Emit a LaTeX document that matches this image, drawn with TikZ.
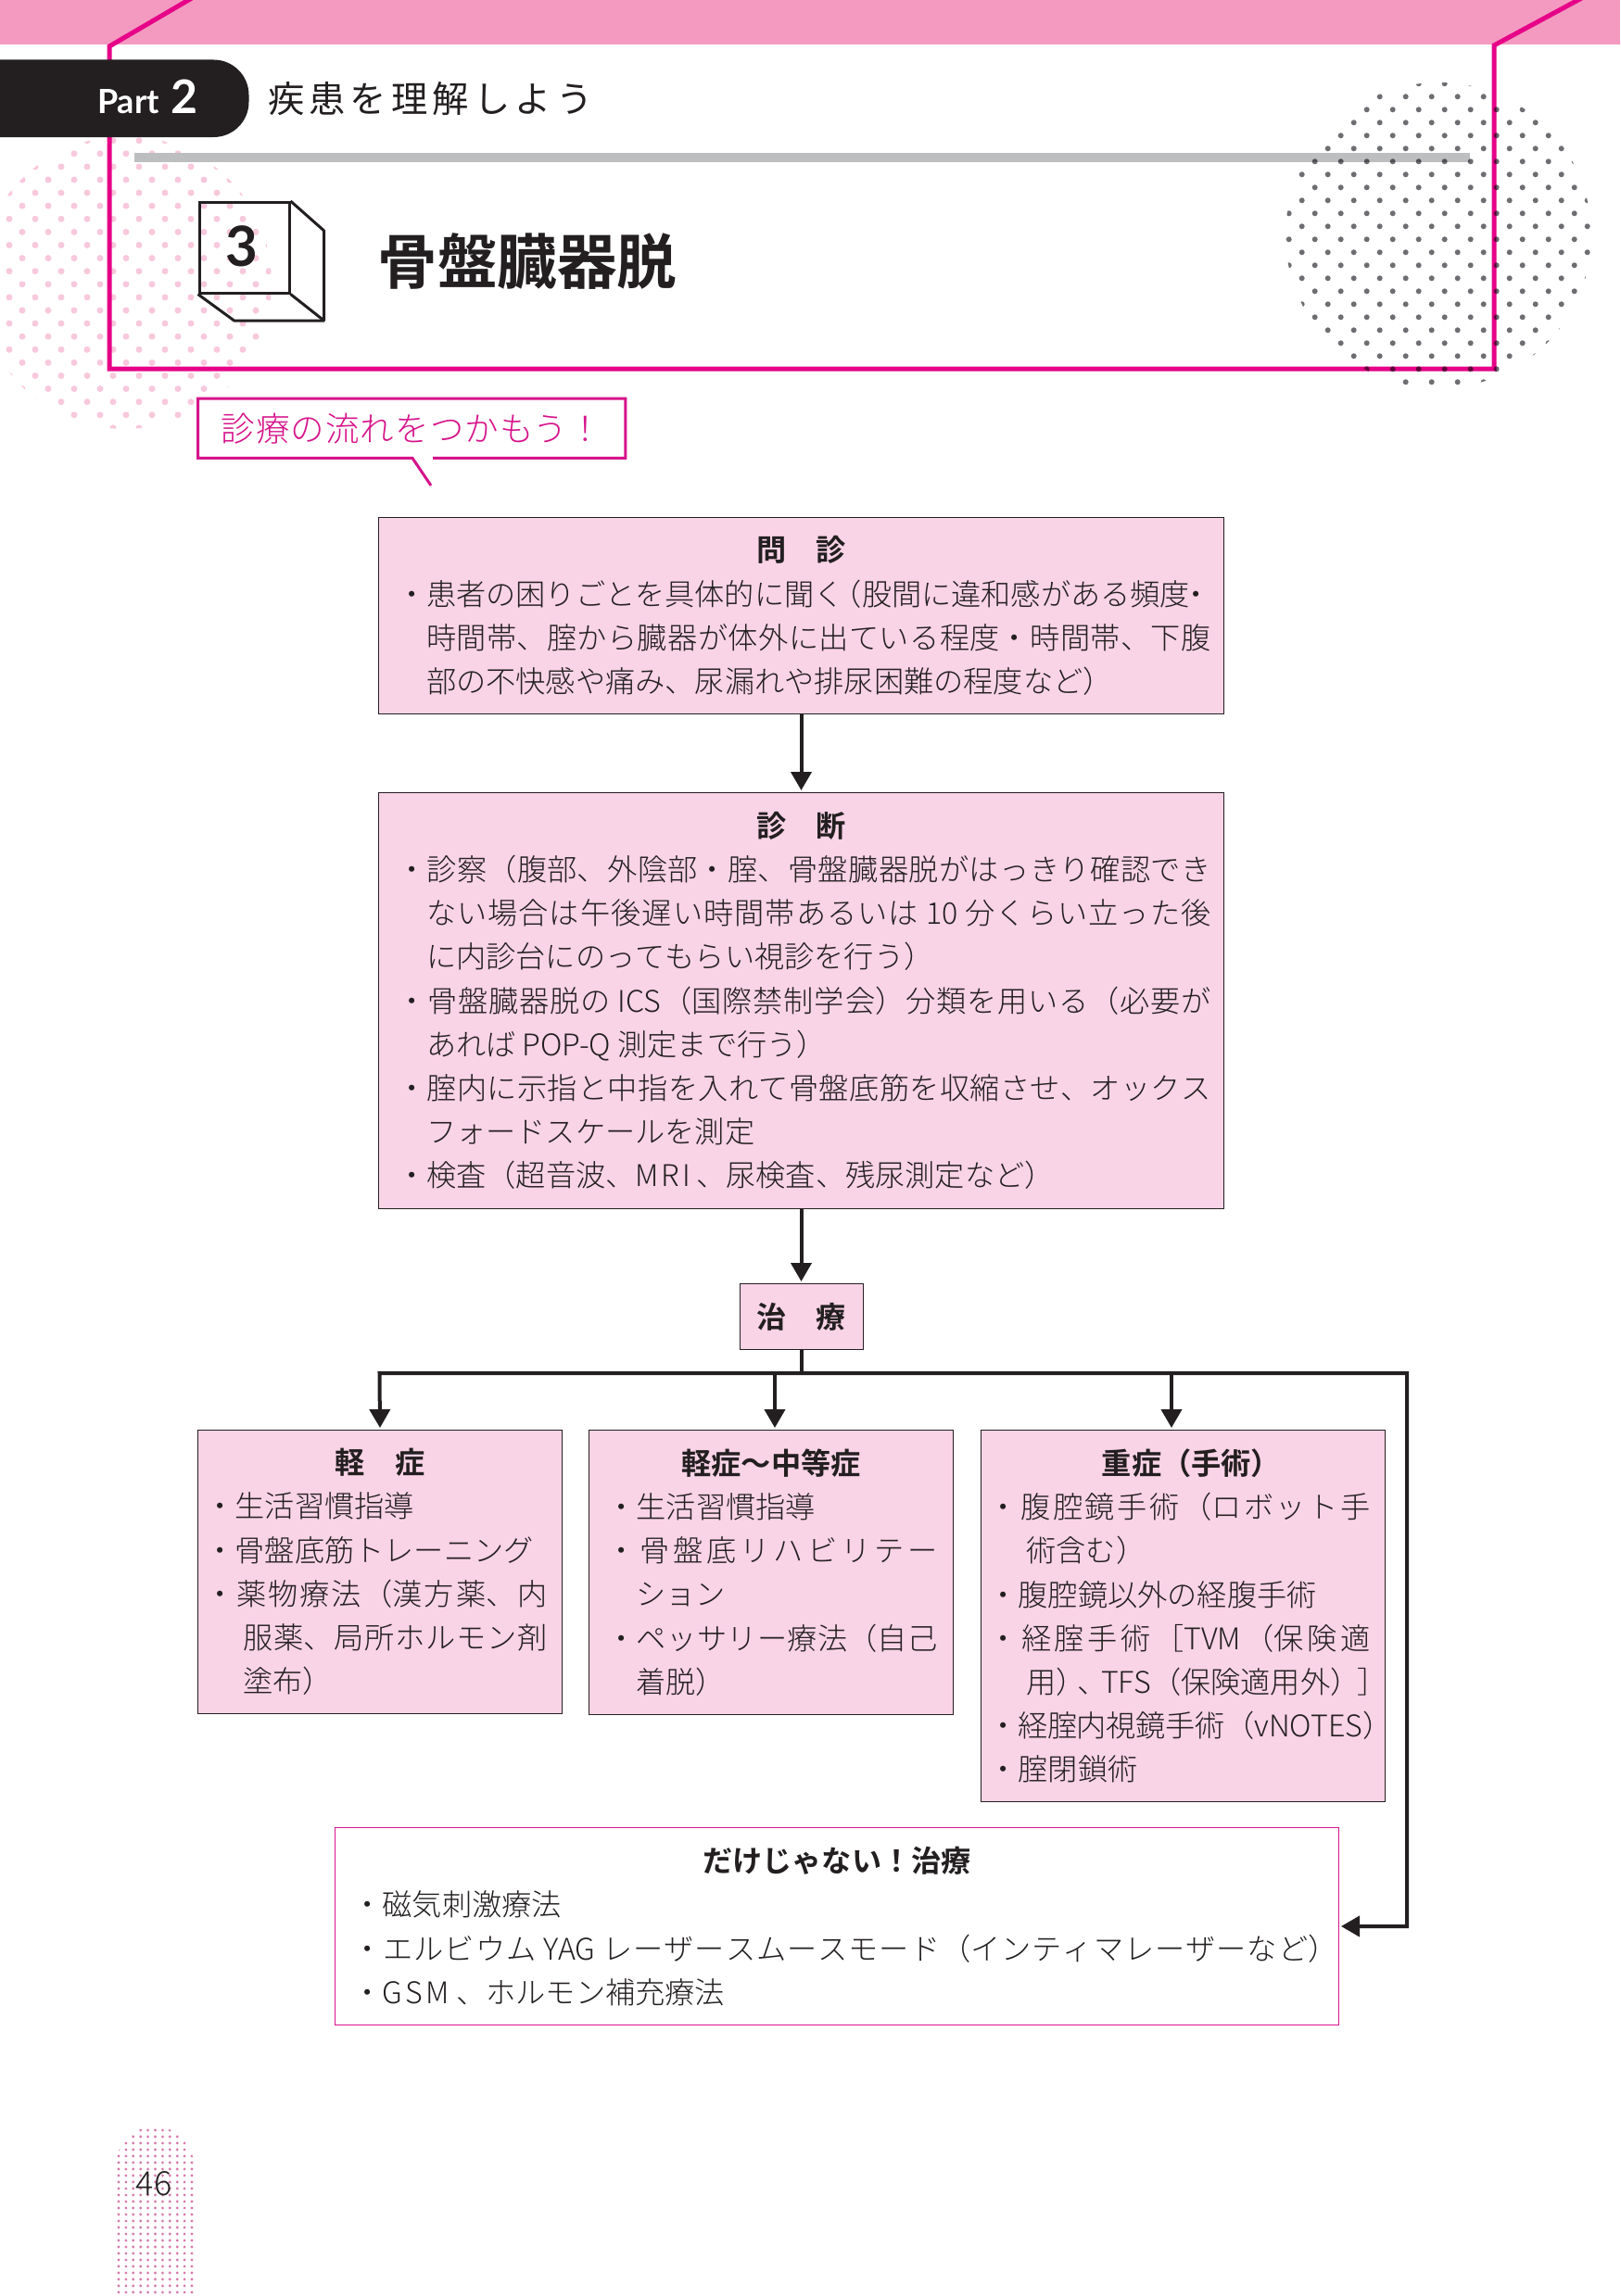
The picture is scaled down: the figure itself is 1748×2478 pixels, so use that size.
\documentclass[tikz,border=0pt]{standalone}
\usepackage{fontspec}
\usetikzlibrary{positioning,arrows.meta}
\setmainfont{Noto Sans CJK JP Light}[BoldFont={Noto Sans CJK JP Bold}]
\newfontfamily\spacedfont[LetterSpace=13]{Noto Sans CJK JP}
\newfontfamily\calloutfont[LetterSpace=3]{Noto Sans CJK JP Light}
\newfontfamily\latinfont{Lato}
\definecolor{BandPink}{RGB}{244,154,193}
\definecolor{FrameMagenta}{RGB}{230,0,135}
\definecolor{TipMagenta}{RGB}{214,20,138}
\definecolor{CardPink}{RGB}{249,211,230}
\definecolor{SoftDot}{RGB}{248,200,220}
\definecolor{PageDot}{RGB}{214,120,170}
\definecolor{GreyDot}{RGB}{109,110,113}
\definecolor{BarGrey}{RGB}{188,190,192}
\definecolor{Ink}{RGB}{35,31,32}
% justified lines inside the cards
\XeTeXlinebreaklocale "ja"
\XeTeXlinebreakskip=0pt plus 4pt minus 1.5pt
\tolerance=9999
\hbadness=10000
\newdimen\hangamt
\newdimen\leftamt
\newdimen\rightamt
\newcommand{\cardhead}[1]{{\centering\bfseries #1\par}}
\newcommand{\itm}[1]{\par\parfillskip=0pt plus 1fil\hangindent=\hangamt\hangafter=1\leftskip=\leftamt\rightskip=\rightamt ・#1\par}

\begin{document}
\begin{tikzpicture}[x=1pt,y=-1pt,
    card/.style={rectangle,draw=Ink,line width=1pt,fill=CardPink,inner xsep=8pt,inner ysep=0pt,
                 align=justify,text=Ink,font=\fontsize{32.2}{47.2}\selectfont},
    arrow/.style={-{Triangle[length=20pt,width=22pt]},line width=4pt,Ink,shorten >=2pt}
]
\useasboundingbox (0,0) rectangle (1748,2478);

% Header band and dots
\fill[BandPink] (0,0) rectangle (1748,48);
\begin{scope}
\clip (135,305) circle[radius=158];
\foreach \row in {0,...,22}
  \foreach \col in {-3,...,12}
    \fill[SoftDot] ({66+28*\col-14*mod(\row,2)},{151.7+14.1*\row}) circle[radius=3.5];
\end{scope}

% Frame
\draw[FrameMagenta,line width=5pt,miter limit=10] (212,-5) -- (118,50) -- (118,398) -- (1612,398) -- (1612,49) -- (1712,-5);
\fill[BarGrey] (145,165) rectangle (1586,175);

% Grey dots
\begin{scope}[blend mode=multiply]
\clip (1552,254) circle[radius=165];
\foreach \row in {0,...,23}
  \foreach \col in {-6,...,7}
    \fill[GreyDot] ({1530.7+28*\col+14*mod(\row,2)},{90.3+14*\row}) circle[radius=3];
\end{scope}

% Part label
\fill[Ink,rounded corners=38pt] (-60,64.5) -- (268.5,64.5) -- (268.5,148) -- (-60,148) -- cycle;
\node[anchor=base west,inner sep=0pt,text=white,font=\latinfont\bfseries\fontsize{36}{36}\selectfont] (part) at (105,122.5) {Part\hspace{4pt} {\fontsize{50}{50}\selectfont 2}};
\node[anchor=west,inner sep=0pt,text=Ink,font=\spacedfont\fontsize{39.3}{39.3}\selectfont] (chapter) at (289,107) {疾患を理解しよう};

% Section number
\node[rectangle,draw=Ink,line width=3pt,minimum width=97pt,minimum height=97.5pt,anchor=north west,inner sep=0pt] (number) at (213.5,217) {};
\node[inner sep=0pt,font=\latinfont\bfseries\fontsize{60}{60}\selectfont,text=Ink] (numeral) at (261,266) {3};
\draw[Ink,line width=3pt,line join=round] (number.north east) -- (349.6,249) -- (349.6,346) -- (252.6,346) -- (number.south west);
\draw[Ink,line width=3pt] (number.south east) -- (349.6,346);
\node[anchor=west,inner sep=0pt,text=Ink,font=\bfseries\fontsize{64.5}{64.5}\selectfont] (title) at (407.5,282) {骨盤臓器脱};

% Callout
\node[rectangle,fill=white,minimum width=461pt,minimum height=64pt,anchor=north west,inner sep=0pt,
      text=TipMagenta,font=\calloutfont\fontsize{36.5}{36.5}\selectfont] (callout) at (213.5,430) {診療の流れをつかもう！};
\coordinate (tail) at (465,524);
\draw[TipMagenta,line width=3pt,line join=miter]
  ([xshift=253.5pt]callout.south west) -- (callout.south east) -- (callout.north east) -- (callout.north west)
  -- (callout.south west) -- ([xshift=231.5pt]callout.south west) -- (tail);

% Interview
\node[card,minimum width=912pt,minimum height=212pt,text width=896pt,anchor=north west,
      execute at begin node={\leftamt=11.5pt\rightamt=6pt\hangamt=32pt}] (interview) at (408,558) {
    \cardhead{問　診}
    \itm{患者の困りごとを具体的に聞く\kern-.4em（股間に違和感がある頻度\kern-.3em・\linebreak
    時間帯、腟から臓器が体外に出ている程度・時間帯、下腹\linebreak
    部の不快感や痛み、尿漏れや排尿困難の程度など）}
};

% Diagnosis
\node[card,minimum width=912pt,minimum height=449pt,text width=896pt,below=84pt of interview,
      execute at begin node={\leftamt=11.5pt\rightamt=6pt\hangamt=32pt}] (diagnosis) {
    \cardhead{診　断}
    \itm{診察（腹部、外陰部・腟、骨盤臓器脱がはっきり確認でき\linebreak
    ない場合は午後遅い時間帯あるいは 10 分くらい立った後\linebreak
    に内診台にのってもらい視診を行う）}
    \itm{骨盤臓器脱の ICS（国際禁制学会）分類を用いる（必要が\linebreak
    あれば POP-Q 測定まで行う）}
    \itm{腟内に示指と中指を入れて骨盤底筋を収縮させ、オックス\linebreak
    フォードスケールを測定}
    \itm{検査（超音波、M\kern3pt R\kern3pt I\hspace{6pt}、尿検査、残尿測定など）}
};

% Treatment
\node[rectangle,draw=Ink,line width=1pt,fill=CardPink,minimum width=133pt,minimum height=71pt,inner sep=0pt,
      text=Ink,font=\bfseries\fontsize{32}{47.2}\selectfont,below=80pt of diagnosis] (treatment) {治　療};

% Mild
\node[card,minimum width=393pt,minimum height=306pt,text width=377pt,anchor=north west,
      execute at begin node={\leftamt=0pt\rightamt=8pt\hangamt=41pt}] (mild) at (213,1543) {
    \cardhead{軽　症}
    \itm{生活習慣指導}
    \itm{骨盤底筋トレーニング}
    \itm{薬物療法（漢方薬、内\linebreak
    服薬、局所ホルモン剤\linebreak
    塗布）}
};

% Mild to moderate
\node[card,minimum width=393pt,minimum height=307pt,text width=377pt,anchor=north west,
      execute at begin node={\leftamt=11pt\rightamt=9pt\hangamt=32pt}] (moderate) at (635,1543) {
    \cardhead{軽症〜中等症}
    \itm{生活習慣指導}
    \itm{骨盤底リハビリテー\linebreak
    ション}
    \itm{ペッサリー療法（自己\linebreak
    着脱）}
};

% Severe
\node[card,minimum width=436pt,minimum height=401pt,text width=420pt,anchor=north west,
      execute at begin node={\leftamt=0pt\rightamt=8pt\hangamt=41pt}] (severe) at (1058,1543) {
    \cardhead{\hspace*{18pt}重症（手術）}
    \itm{腹腔鏡手術（ロボット手\linebreak
    術含む）}
    \itm{腹腔鏡以外の経腹手術}
    \itm{経腟手術［TVM（保険適\linebreak
    用）\kern-.3em、\kern-.2em TFS（保険適用外）\kern-.1em］\kern-24pt}
    \itm{経腟内視鏡手術（vNOTES）\kern-24pt}
    \itm{腟閉鎖術}
};

% Other treatment
\node[card,draw=TipMagenta,fill=white,minimum width=1083pt,minimum height=213pt,text width=1067pt,anchor=north west,
      execute at begin node={\leftamt=11pt\rightamt=-7pt\hangamt=32pt}] (other) at (361,1972) {
    \cardhead{だけじゃない！治療}
    \itm{磁気刺激療法}
    \itm{\parfillskip=0pt エルビウム YAG レーザースムースモード（インティマレーザーなど）}
    \itm{G\kern3pt S\kern3pt M\hspace{8pt}、ホルモン補充療法}
};

% Arrows connecting stages
\coordinate (busleft) at (409.5,1482);
\coordinate (busmid) at (836,1482);
\coordinate (busthird) at (1264,1482);
\coordinate (busright) at (1518,1482);
\draw[arrow] (interview.south) -- (diagnosis.north);
\draw[arrow] (diagnosis.south) -- (treatment.north);
\draw[line width=4pt,Ink] (treatment.south) -- (treatment.south |- busleft);
\draw[arrow,{Triangle[length=20pt,width=22pt]}-{Triangle[length=20pt,width=22pt]},shorten <=2pt] (mild.north) -- (busleft) -- (busright) -- (busright |- other.east) -- (other.east);
\draw[arrow] (busmid) -- (busmid |- moderate.north);
\draw[arrow] (busthird) -- (busthird |- severe.north);

% Page number
\begin{scope}
\clip (125,2478) -- (125,2337) arc[start angle=180,end angle=360,x radius=42,y radius=42] -- (209,2478) -- cycle;
\foreach \row in {0,...,25}
  \foreach \col in {0,...,10}
    \fill[PageDot] ({128+7.9*\col},{2299+7*\row}) circle[radius=1.6];
\end{scope}
\node[inner sep=0pt,text=Ink,font=\fontsize{36}{36}\selectfont] (pagenum) at (166,2357) {46};

\end{tikzpicture}
\end{document}
